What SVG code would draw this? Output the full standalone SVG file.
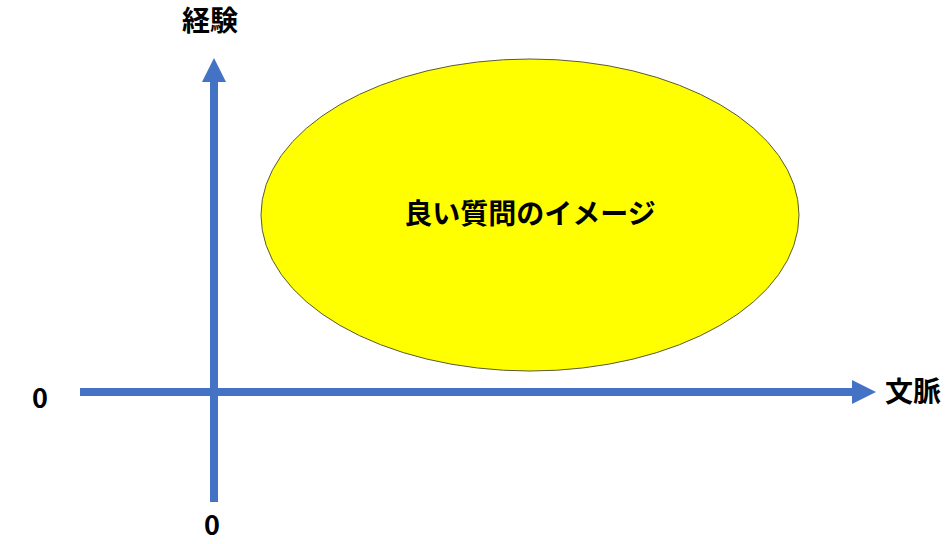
<svg xmlns="http://www.w3.org/2000/svg" width="952" height="544" viewBox="0 0 952 544">
<style>
.lbl{font-family:"Noto Sans CJK JP","Noto Sans",sans-serif;font-weight:bold;fill:#000;}
.axis{stroke:#4472C4;stroke-width:8;fill:none;}
</style>
<defs>
<marker id="ah" markerUnits="userSpaceOnUse" markerWidth="24" markerHeight="24" refX="0" refY="12" orient="auto" viewBox="0 0 24 24">
<path d="M0,0 L24,12 L0,24 Z" fill="#4472C4"/>
</marker>
</defs>
<rect width="952" height="544" fill="#fff"/>
<g id="connectors">
<line class="axis" x1="80" y1="392" x2="852" y2="392" marker-end="url(#ah)"/>
<line class="axis" x1="214" y1="502" x2="214" y2="82" marker-end="url(#ah)"/>
</g>
<g id="node-ellipse">
<ellipse cx="530" cy="215" rx="269" ry="156" fill="#FFFF00" stroke="#5a5a3a" stroke-width="1"/>
<text class="lbl" x="530" y="224" font-size="28" text-anchor="middle">良い質問のイメージ</text>
</g>
<g id="label-y">
<text class="lbl" x="210" y="31" font-size="28" text-anchor="middle">経験</text>
</g>
<g id="label-x">
<text class="lbl" x="913" y="402" font-size="28" text-anchor="middle">文脈</text>
</g>
<g id="label-origin-x">
<text class="lbl" x="40" y="408" font-size="27" text-anchor="middle">0</text>
</g>
<g id="label-origin-y">
<text class="lbl" x="212" y="535" font-size="27" text-anchor="middle">0</text>
</g>
</svg>
